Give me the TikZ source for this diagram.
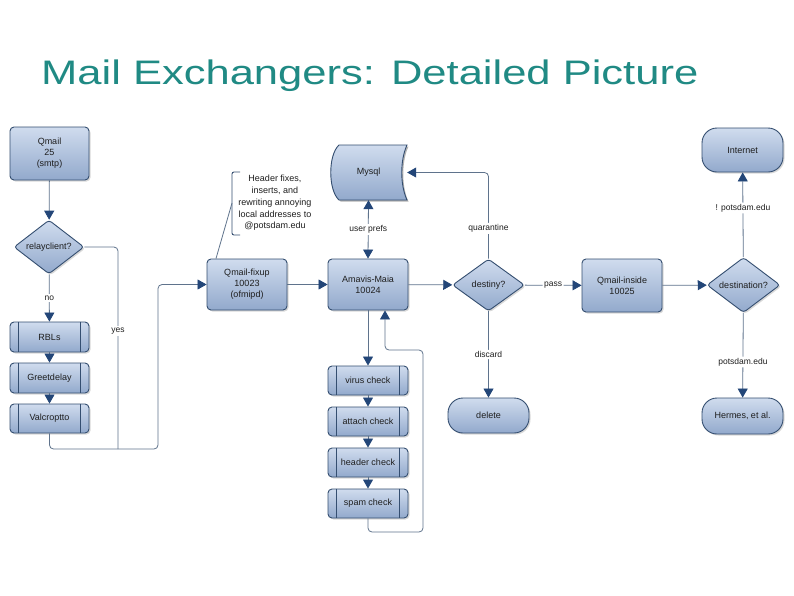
\documentclass[tikz,border=0pt]{standalone}
\usepackage{fontspec}
\setmainfont{Liberation Sans}
\usetikzlibrary{shapes.geometric,arrows.meta,shadows}
\definecolor{titlec}{RGB}{32,138,132}
\definecolor{bordc}{RGB}{52,78,112}
\definecolor{topc}{RGB}{208,220,238}
\definecolor{botc}{RGB}{146,169,204}
\definecolor{linec}{RGB}{95,115,140}
\definecolor{tipc}{RGB}{35,70,120}
\definecolor{txtc}{RGB}{30,30,30}
\begin{document}
\begin{tikzpicture}[x=1pt,y=-1pt,
 base/.style={draw=bordc, line width=0.9pt, top color=topc, bottom color=botc,
   font=\fontsize{9}{11}\selectfont, text=txtc, align=center, inner sep=0pt,
   drop shadow={shadow xshift=1.5pt,shadow yshift=-1.5pt,opacity=0.3}},
 box/.style={base, rectangle, rounded corners=4pt},
 dec/.style={base, diamond, rounded corners=3pt},
 term/.style={base, rectangle, rounded corners=15pt},
 tip/.style={Triangle[length=9pt,width=10pt,color=tipc]},
 conn/.style={draw=linec, line width=0.8pt, rounded corners=4pt, -{Triangle[length=9pt,width=10pt,color=tipc]}},
 plain/.style={draw=linec, line width=0.8pt, rounded corners=4pt},
 lab/.style={fill=white, font=\fontsize{8.5}{10}\selectfont, text=txtc, inner sep=1.5pt},
 note/.style={font=\fontsize{9}{11.7}\selectfont, text=txtc, align=center, inner sep=0pt}]
\useasboundingbox[fill=white] (0,0) rectangle (794,595);

% title
\node[anchor=base west, text=titlec, font=\fontsize{34}{40}\selectfont, inner sep=0pt] (title) at (41,84)
  {\scalebox{1.28}[1]{Mail Exchangers: Detailed Picture}};

% left column
\node[box, minimum width=79pt, minimum height=53pt] (qmail) at (49.5,153.5) {Qmail\\25\\(smtp)};
\node[dec, minimum width=70pt, minimum height=51pt] (relay) at (49,247) {relayclient?};
\node[box, minimum width=79pt, minimum height=30pt] (rbl) at (49.5,337) {RBLs};
\node[box, minimum width=79pt, minimum height=30pt] (greet) at (49.5,378) {Greetdelay};
\node[box, minimum width=79pt, minimum height=29pt] (valc) at (49.5,418.5) {Valcroptto};

% middle
\node[box, minimum width=80pt, minimum height=51pt] (fixup) at (247,284.5) {Qmail-fixup\\10023\\(ofmipd)};
\node[box, minimum width=80pt, minimum height=51pt] (amavis) at (368,284.5) {Amavis-Maia\\10024};
\node[box, minimum width=80pt, minimum height=29pt] (virus) at (368,380.5) {virus check};
\node[box, minimum width=80pt, minimum height=29pt] (attach) at (368,421.5) {attach check};
\node[box, minimum width=80pt, minimum height=29pt] (header) at (368,462.5) {header check};
\node[box, minimum width=80pt, minimum height=29pt] (spam) at (368,503.5) {spam check};

% inner lines of predefined process boxes
\foreach \n in {rbl,greet,valc,virus,attach,header,spam}{
  \draw[bordc, line width=0.8pt] ([xshift=9pt]\n.north west) -- ([xshift=9pt]\n.south west)
    ([xshift=-9pt]\n.north east) -- ([xshift=-9pt]\n.south east);
}

% Mysql stored data shape
\path[fill=black, opacity=0.3, shift={(1.5,1.5)}]
  (339,145) -- (407,145) .. controls (400,160) and (400,185) .. (407,200) -- (339,200)
  .. controls (328,190) and (328,155) .. (339,145) -- cycle;
\path[draw=bordc, line width=0.9pt, top color=topc, bottom color=botc]
  (339,145) -- (407,145) .. controls (400,160) and (400,185) .. (407,200) -- (339,200)
  .. controls (328,190) and (328,155) .. (339,145) -- cycle;
\node[font=\fontsize{9}{11}\selectfont, text=txtc, inner sep=0pt, minimum width=77pt, minimum height=55pt] (mysql) at (368.5,172.5) {Mysql};

% right part
\node[dec, minimum width=72pt, minimum height=52pt] (destiny) at (488.5,285) {destiny?};
\node[box, minimum width=80pt, minimum height=53pt] (qinside) at (622,285.5) {Qmail-inside\\10025};
\node[term, minimum width=81pt, minimum height=35pt] (delete) at (488.5,415.5) {delete};
\node[dec, minimum width=73pt, minimum height=50pt] (dest) at (743.5,285) {destination?};
\node[term, minimum width=81pt, minimum height=44pt] (internet) at (742.5,150) {Internet};
\node[term, minimum width=81pt, minimum height=36pt] (hermes) at (742.5,416) {Hermes, et al.};

% annotation
\node[note] (noteA) at (275,203) {Header fixes,\\inserts, and\\rewriting annoying\\local addresses to\\@potsdam.edu};
\draw[bordc, line width=0.9pt, rounded corners=2pt] (240,172) -- (232,172) -- (232,235) -- (240,235);
\coordinate (brm) at (232,203);
\draw[linec, line width=0.8pt] (brm) -- ([xshift=-31pt]fixup.north);

% connectors left
\draw[conn] (qmail) -- (relay);
\draw[conn] (relay) -- node[lab] {no} (rbl);
\draw[conn] (rbl) -- (greet);
\draw[conn] (greet) -- (valc);
\coordinate (yb) at (118,449);
\coordinate (jb) at (158,449);
\draw[plain] (relay.east) -| (yb);
\node[lab] (yeslab) at (118,331) {yes};
\draw[conn] (valc.south) |- (jb) |- (fixup.west);

% connectors middle
\draw[conn] (fixup) -- (amavis);
\draw[conn] (amavis) -- (destiny);
\draw[draw=linec, line width=0.8pt, {Triangle[length=9pt,width=10pt,color=tipc]}-{Triangle[length=9pt,width=10pt,color=tipc]}]
  (amavis.north) -- node[lab] {user prefs} (mysql.south);
\draw[conn] (destiny.north) -- node[lab, pos=0.35] {quarantine} (488.5,172.5) -- (mysql.east);
\draw[conn] (amavis.south) -- (virus.north);
\draw[conn] (virus) -- (attach);
\draw[conn] (attach) -- (header);
\draw[conn] (header) -- (spam);
\coordinate (lp1) at (368,532);
\coordinate (lp2) at (423,350);
\draw[conn] (spam.south) -- (lp1) -| (lp2) -| ([xshift=17pt]amavis.south);

% connectors right
\draw[conn] (destiny) -- node[lab] {pass} (qinside);
\draw[conn] (destiny) -- node[lab] {discard} (delete);
\draw[conn] (qinside) -- (dest);
\draw[conn] (dest) -- node[lab, pos=0.58] {! potsdam.edu} (internet);
\draw[conn] (dest) -- node[lab, pos=0.58] {potsdam.edu} (hermes);
\end{tikzpicture}
\end{document}
